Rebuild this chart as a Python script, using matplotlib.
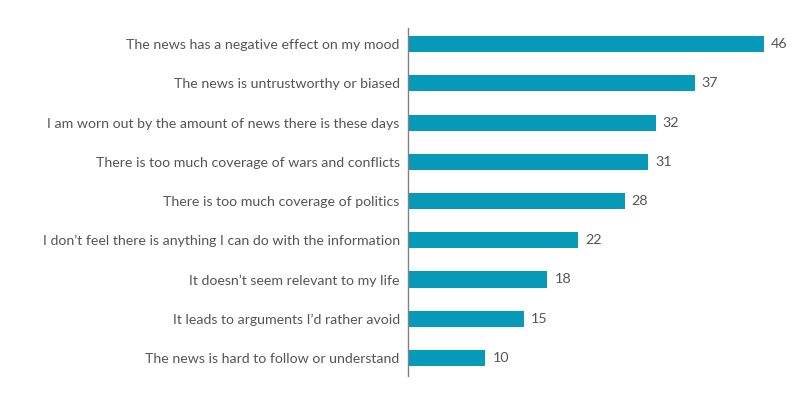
import matplotlib
matplotlib.use("Agg")
import matplotlib.pyplot as plt

labels = [
    "The news has a negative effect on my mood",
    "The news is untrustworthy or biased",
    "I am worn out by the amount of news there is these days",
    "There is too much coverage of wars and conflicts",
    "There is too much coverage of politics",
    "I don\u2019t feel there is anything I can do with the information",
    "It doesn\u2019t seem relevant to my life",
    "It leads to arguments I\u2019d rather avoid",
    "The news is hard to follow or understand",
]
values = [46, 37, 32, 31, 28, 22, 18, 15, 10]

bar_color = "#0799b8"
text_color = "#555555"

plt.rcParams["font.family"] = ["Lato", "DejaVu Sans"]

fig = plt.figure(figsize=(8, 4), dpi=100)
ax = fig.add_axes([0.51, 0.06, 0.484, 0.87])

ypos = list(range(len(values)))
ax.barh(ypos, values, height=0.41, color=bar_color)
for y, v in zip(ypos, values):
    ax.text(v + 0.9, y, str(v), va="center", ha="left", fontsize=10.3, color=text_color)

ax.set_yticks(ypos)
ax.set_yticklabels(labels, fontsize=10.2, color=text_color)
ax.tick_params(axis="y", length=0, pad=6)
ax.set_xticks([])
ax.set_xlim(0, 50)
ax.set_ylim(len(values) - 1 + 0.46, -0.41)

for s in ["top", "right", "bottom"]:
    ax.spines[s].set_visible(False)
ax.spines["left"].set_color("#808080")
ax.spines["left"].set_linewidth(1.0)

fig.savefig("out.png", dpi=100)
